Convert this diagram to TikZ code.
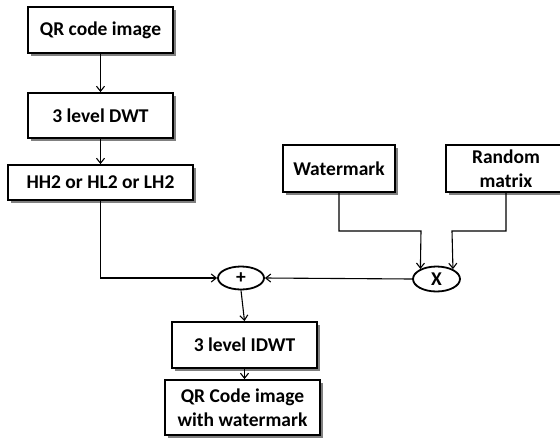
\documentclass[tikz,border=0pt]{standalone}
\usepackage{fontspec}
\setmainfont{Carlito}
\usetikzlibrary{arrows.meta,shapes.geometric,shadows}
\begin{document}
\begin{tikzpicture}[x=1pt,y=-1pt,
  box/.style={draw, line width=1.8pt, fill=white, inner sep=0pt, align=center,
    font=\bfseries\fontsize{19.5}{24}\selectfont,
    drop shadow={shadow xshift=2.5pt, shadow yshift=-2.5pt, fill=black!50, opacity=1}},
  op/.style={draw, ellipse, line width=1.8pt, fill=white, inner sep=0pt,
    font=\bfseries\fontsize{19.5}{22}\selectfont},
  conn/.style={line width=1.1pt, -{Straight Barb[length=5pt,width=8pt]}},
  line/.style={line width=1.1pt}]
\useasboundingbox (0,0) rectangle (560,437);
\node[box, minimum width=145pt, minimum height=46pt] (qr) at (100.5,30) {QR code image};
\node[box, minimum width=145pt, minimum height=45pt] (dwt) at (100.5,115.5) {3 level DWT};
\node[box, minimum width=185pt, minimum height=35pt] (hh) at (100.5,182.5) {HH2 or HL2 or LH2};
\node[box, minimum width=112pt, minimum height=47pt] (wm) at (339,168.5) {Watermark};
\node[box, minimum width=120pt, minimum height=47pt] (rm) at (506,168.5) {Random\\matrix};
\node[op, minimum width=46pt, minimum height=23pt] (plus) at (241,278) {+};
\node[op, minimum width=47pt, minimum height=25pt] (mul) at (436.5,279) {X};
\node[box, minimum width=145pt, minimum height=46pt] (idwt) at (244.5,345) {3 level IDWT};
\node[box, minimum width=155pt, minimum height=55pt] (out) at (242.5,407.5) {QR Code image\\with watermark};
\coordinate (w1) at (339,231);
\coordinate (w2) at (421,231);
\coordinate (r1) at (506,231);
\coordinate (r2) at (452,231);
\draw[conn] (qr.south) -- (dwt.north);
\draw[conn] (dwt.south) -- (hh.north);
\draw[conn] (hh.south) |- (plus.west);
\draw[conn] (mul.west) -- (plus.east);
\draw[conn] (wm.south) -- (w1) -- (w2) -- (mul.148.8);
\draw[conn] (rm.south) -- (r1) -- (r2) -- (mul.31.2);
\draw[conn] (plus.south) -- (idwt.north);
\draw[conn] (idwt.south) -- (idwt.south |- out.north);
\end{tikzpicture}
\end{document}
